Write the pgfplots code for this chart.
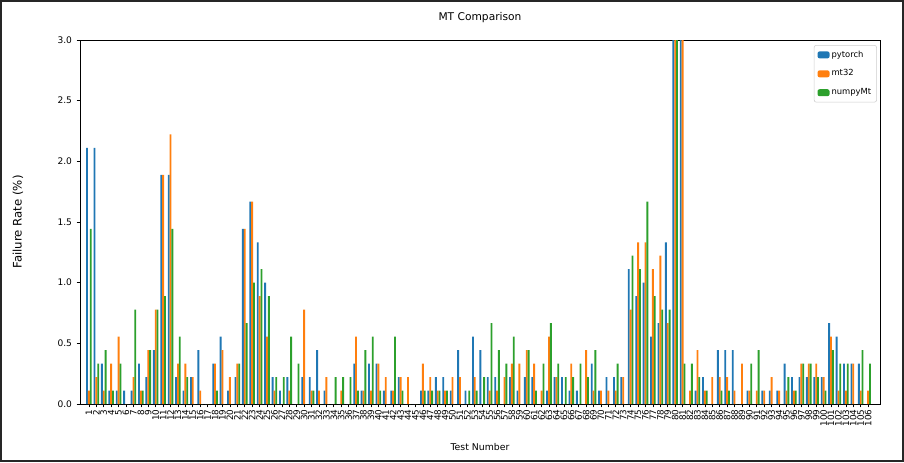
\documentclass[border=0pt]{standalone}
\usepackage{pgfplots}
\pgfplotsset{compat=1.18}
\usepackage{pgfplotstable}
\usepackage{fontspec}
\setmainfont{DejaVu Sans}
\definecolor{tabblue}{HTML}{1F77B4}
\definecolor{taborange}{HTML}{FF7F0E}
\definecolor{tabgreen}{HTML}{2CA02C}

\pgfplotstableread{
n p m q
1 2.111 0.111 1.444
2 2.111 0.222 0.333
3 0.333 0.111 0.444
4 0.111 0.333 0.111
5 0.111 0.556 0.333
6 0.111 0 0
7 0.111 0.222 0.778
8 0.333 0.111 0.111
9 0.222 0.444 0.444
10 0.444 0.778 0.778
11 1.889 1.889 0.889
12 1.889 2.222 1.444
13 0.222 0.333 0.556
14 0.111 0.333 0.222
15 0.222 0.222 0
16 0.444 0.111 0
17 0 0 0
18 0.333 0.333 0.111
19 0.556 0.444 0
20 0.111 0.222 0
21 0.222 0.333 0.333
22 1.444 1.444 0.667
23 1.667 1.667 1.0
24 1.333 0.889 1.111
25 1.0 0.556 0.889
26 0.222 0.111 0.222
27 0.111 0 0.222
28 0.222 0.111 0.556
29 0 0 0.333
30 0.222 0.778 0
31 0.222 0.111 0.111
32 0.444 0.111 0
33 0.111 0.222 0
34 0 0 0.222
35 0 0.111 0.222
36 0 0 0.222
37 0.333 0.556 0.111
38 0.111 0.111 0.444
39 0.333 0.111 0.556
40 0.333 0.333 0.111
41 0.111 0.222 0
42 0.111 0.111 0.556
43 0.222 0.222 0.111
44 0 0.222 0
45 0 0 0
46 0.111 0.333 0.111
47 0.111 0.222 0.111
48 0.222 0.111 0.111
49 0.222 0.111 0.111
50 0.111 0.222 0
51 0.444 0.222 0
52 0.111 0 0.111
53 0.556 0.222 0.111
54 0.444 0 0.222
55 0.222 0.111 0.667
56 0.222 0.111 0.444
57 0 0.222 0.333
58 0.222 0.333 0.556
59 0.111 0.333 0
60 0.222 0.444 0.444
61 0.222 0.333 0.111
62 0 0.111 0.333
63 0.111 0.556 0.667
64 0.222 0.222 0.333
65 0.222 0 0.222
66 0.111 0.333 0.222
67 0.111 0 0.333
68 0 0.444 0.222
69 0.333 0.111 0.444
70 0.111 0.111 0
71 0.222 0.111 0
72 0.222 0.111 0.333
73 0.222 0.222 0
74 1.111 0.778 1.222
75 0.889 1.333 1.111
76 1.0 1.333 1.667
77 0.556 1.111 0.889
78 0.667 1.222 0.778
79 1.333 0.667 0.778
80 5.0 5.0 5.0
81 5.0 5.0 0.333
82 0 0.111 0.333
83 0.111 0.444 0.222
84 0.222 0.111 0.111
85 0 0.222 0
86 0.444 0.222 0.111
87 0.444 0.222 0.111
88 0.444 0.111 0
89 0 0.333 0
90 0.111 0.111 0.333
91 0 0.111 0.444
92 0.111 0.111 0
93 0.111 0.222 0
94 0.111 0.111 0
95 0.333 0.111 0.222
96 0.222 0.111 0.111
97 0.222 0.333 0.333
98 0.222 0.333 0.333
99 0.222 0.333 0.222
100 0.222 0.222 0.111
101 0.667 0.556 0.444
102 0.556 0.111 0.333
103 0.333 0.111 0.333
104 0.333 0.333 0
105 0.333 0.111 0.444
106 0 0.111 0.333
}\data

\begin{document}
\begin{tikzpicture}
\useasboundingbox (0pt,0pt) rectangle (678pt,346.5pt);
\draw[black!85, line width=1.2pt] (0.6pt,0.6pt) rectangle (677.4pt,345.9pt);
\begin{axis}[
  at={(60pt,43.5pt)}, anchor=south west,
  scale only axis, width=600pt, height=273pt,
  xmin=-0.2, xmax=107.6, ymin=0, ymax=3,
  xtick={1,...,106},
  ytick={0,0.5,...,3},
  tick pos=left, tick align=outside,
  major tick length=2.5pt,
  tick style={black, line width=0.5pt},
  axis line style={black, line width=0.6pt},
  /pgf/number format/assume math mode=true,
  yticklabel style={font=\fontsize{6.8}{8}\selectfont, /pgf/number format/.cd, fixed, fixed zerofill, precision=1},
  xticklabel style={font=\fontsize{6.6}{7}\selectfont, rotate=90, anchor=east, inner sep=1.5pt},
  title={MT Comparison},
  title style={font=\fontsize{8}{10}\selectfont, at={(axis description cs:0.5,1.041)}, anchor=center},
  xlabel={Test Number},
  xlabel style={font=\fontsize{7}{9}\selectfont, at={(axis description cs:0.5,-0.118)}, anchor=center},
  ylabel={Failure Rate (\%)},
  ylabel style={font=\fontsize{8.8}{10}\selectfont, at={(axis description cs:-0.0775,0.5)}, anchor=center},
  legend style={at={(axis description cs:0.996,0.986)}, anchor=north east,
    font=\fontsize{6.3}{7.5}\selectfont, draw=black!20, rounded corners=1.5pt,
    row sep=5pt, inner sep=2.5pt, nodes={inner sep=1.5pt}},
  legend cell align=left,
  legend image code/.code={\fill[#1] (0pt,-2.6pt) rectangle (9pt,2.6pt);},
]
\addplot[ybar, bar width=0.25, bar shift=-0.25, fill=tabblue, draw=none] table[x=n,y=p]{\data};
\addlegendentry{pytorch}
\addplot[ybar, bar width=0.25, bar shift=0, fill=taborange, draw=none] table[x=n,y=m]{\data};
\addlegendentry{mt32}
\addplot[ybar, bar width=0.25, bar shift=0.25, fill=tabgreen, draw=none] table[x=n,y=q]{\data};
\addlegendentry{numpyMt}
\end{axis}
\end{tikzpicture}
\end{document}
